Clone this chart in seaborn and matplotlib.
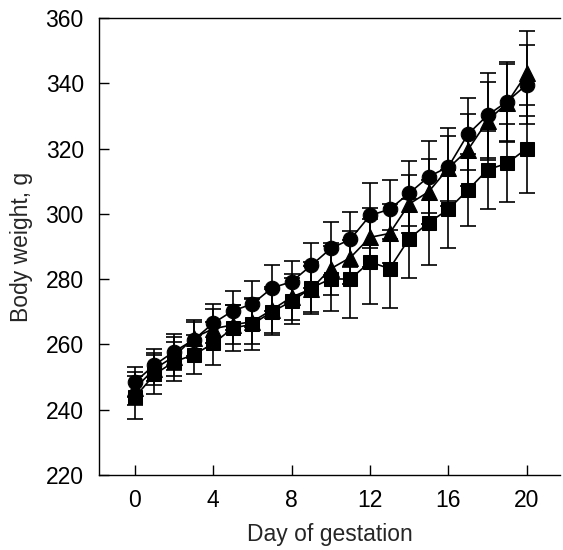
import matplotlib
matplotlib.use("Agg")
import matplotlib.pyplot as plt
import seaborn as sns
import pandas as pd

days = list(range(21))
circle_mean = [248.5, 253.7, 257.8, 261.4, 266.5, 270.3, 272.4, 277.3, 279.2, 284.2, 289.4, 292.2, 299.5, 301.4, 306.3, 311.4, 314.4, 324.4, 330.2, 334.4, 339.6]
circle_err = [4.5, 5, 5.5, 5.5, 6, 6, 7, 7, 6.5, 7, 8, 8.5, 10, 9, 10, 11, 12, 11, 13, 12, 12]
triangle_mean = [246.5, 252.5, 256.3, 262.0, 264.8, 266.0, 267.0, 270.6, 274.5, 277.0, 283.2, 286.6, 292.8, 294.0, 303.0, 306.8, 314.0, 319.6, 328.5, 334.0, 343.0]
triangle_err = [5, 5, 6, 5.5, 6, 6, 7, 7, 7, 7, 8, 8, 9, 9, 9, 10, 10, 11, 12, 12, 13]
square_mean = [243.8, 250.8, 254.7, 256.8, 260.3, 265.0, 266.2, 270.0, 273.2, 277.3, 280.1, 280.0, 285.3, 283.2, 292.4, 297.3, 301.4, 307.3, 313.5, 315.5, 320.0]
square_err = [6.5, 6, 6, 6, 6.5, 7, 8, 7, 7, 8, 10, 12, 13, 12, 12, 13, 12, 11, 12, 12, 13.5]

groups = ["circle", "triangle", "square"]
means = {"circle": circle_mean, "triangle": triangle_mean, "square": square_mean}
errs = {"circle": circle_err, "triangle": triangle_err, "square": square_err}
markers = {"circle": "o", "triangle": "^", "square": "s"}
msizes = {"circle": 10.5, "triangle": 11, "square": 9.5}

rows = []
for g in groups:
    for d, m in zip(days, means[g]):
        rows.append({"day": d, "weight": m, "group": g})
df = pd.DataFrame(rows)

sns.set_theme(style="ticks")
plt.rcParams["font.family"] = ["Liberation Sans", "DejaVu Sans"]

fig = plt.figure(figsize=(5.63, 5.5), dpi=100)
ax = fig.add_axes([99 / 563, 1 - 475 / 550, (560 - 99) / 563, (475 - 18) / 550])

for g in groups:
    ax.errorbar(days, means[g], yerr=errs[g], fmt="none", ecolor="black",
                elinewidth=1.2, capsize=6, capthick=1.2, zorder=2)

for g in groups:
    sub = df[df["group"] == g]
    sns.lineplot(data=sub, x="day", y="weight", ax=ax, color="black",
                 linewidth=1.2, marker=markers[g], markersize=msizes[g],
                 markeredgecolor="black", markerfacecolor="black", zorder=3,
                 legend=False)

ax.set_xlim(-1.83, 21.7)
ax.set_ylim(220, 360)
ax.set_xticks([0, 4, 8, 12, 16, 20])
ax.set_yticks([220, 240, 260, 280, 300, 320, 340, 360])
ax.tick_params(axis="y", direction="in", length=7, width=1, labelsize=16.5, colors="black", pad=11)
ax.tick_params(axis="x", direction="in", length=7, width=1, labelsize=16.5, colors="black", pad=10)
ax.set_xlabel("Day of gestation", fontsize=16.5, labelpad=8)
ax.set_ylabel("Body weight, g", fontsize=16.5, labelpad=9)
for s in ["left", "bottom", "top"]:
    ax.spines[s].set_color("black")
    ax.spines[s].set_linewidth(1.0)
ax.spines["right"].set_visible(False)
ax.grid(False)

fig.savefig("out.png", dpi=100)
